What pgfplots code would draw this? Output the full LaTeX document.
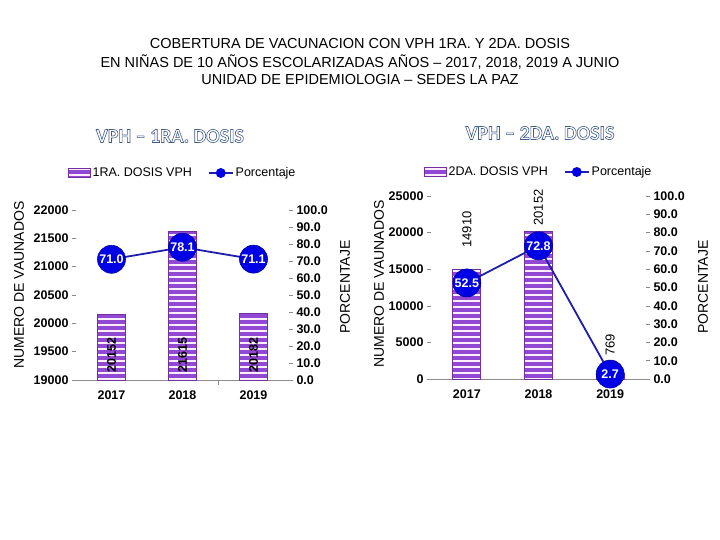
\documentclass[border=0pt]{standalone}
\usepackage{fontspec}
\setmainfont{Liberation Sans}
\newfontfamily\subfont[FakeBold=3]{Carlito Bold}
\usepackage{pgfplots}
\pgfplotsset{compat=1.18}
\usetikzlibrary{patterns}

\pgfdeclarepatternformonly{hstripes}{\pgfqpoint{-2pt}{0pt}}{\pgfqpoint{102pt}{6pt}}{\pgfqpoint{100pt}{6pt}}{%
  \pgfpathrectangle{\pgfqpoint{-2pt}{0pt}}{\pgfqpoint{104pt}{3.6pt}}\pgfusepath{fill}}

\definecolor{barpurple}{RGB}{145,72,210}
\definecolor{barlight}{RGB}{252,238,252}
\definecolor{baredge}{RGB}{112,48,160}
\definecolor{mkblue}{RGB}{0,0,230}
\definecolor{lnblue}{RGB}{30,30,170}
\definecolor{tickgray}{RGB}{140,140,140}

\newcommand{\tickfont}{\fontsize{12.5}{14}\selectfont\bfseries}
\newcommand{\legfont}{\fontsize{12.5}{14}\selectfont}

\pgfplotsset{
  baseaxis/.style={
    anchor=south west, scale only axis,
    xmin=-0.5, xmax=2.5,
    /pgf/number format/assume math mode=true,
    /pgf/number format/1000 sep={},
    scaled y ticks=false,
    tick label style={font=\tickfont},
    tick align=outside, major tick length=4pt,
    ytick style={draw=tickgray, line width=0.6pt},
    clip=false,
  },
  leftaxis/.style={
    baseaxis,
    axis x line*=bottom, axis y line*=left,
    x axis line style={draw=tickgray, line width=0.8pt},
    y axis line style={draw=none},
    xtick={0,1,2}, xticklabels={2017,2018,2019},
    xtick style={draw=none},
    xticklabel style={yshift=-3pt},
    legend style={draw=none, fill=none, legend columns=2, font=\legfont,
      /tikz/every even column/.append style={column sep=14pt}},
  },
  rightaxis/.style={
    baseaxis,
    axis x line=none, axis y line*=right,
    y axis line style={draw=none},
    ymin=0, ymax=100, ytick={0,10,...,100},
    yticklabel style={/pgf/number format/.cd, fixed, fixed zerofill, precision=1},
  },
  mybars/.style={ybar, bar width=28pt, draw=baredge, line width=1pt, fill=barlight,
    postaction={pattern=hstripes, pattern color=barpurple},
    legend image code/.code={\draw[##1] (0pt,-4pt) rectangle (22pt,5pt);}},
  pct/.style={lnblue, line width=1.8pt, mark=*, mark size=14pt,
    mark options={fill=mkblue, draw=mkblue!70!black, line width=0.6pt},
    nodes near coords={\pgfmathprintnumber[fixed,fixed zerofill,precision=1]{\pgfplotspointmeta}},
    every node near coord/.append style={anchor=center, text=white, font=\fontsize{12.5}{14}\selectfont\bfseries, inner sep=0pt}},
  pctleg/.style={lnblue, line width=1.8pt, mark=*, mark size=4pt, mark options={fill=mkblue, draw=mkblue},
    legend image code/.code={\draw[mark repeat=2,mark phase=2,##1] plot coordinates {(0pt,0pt) (12pt,0pt) (24pt,0pt)};}},
}

\newcommand{\outlined}[1]{{\color{white}\special{pdf:literal direct 0.25 0.36 0.55 RG}\subfont\fontsize{20}{22}\selectfont #1}}

\begin{document}
\begin{tikzpicture}
\path[fill=white] (0pt,0pt) rectangle (720pt,-540pt);

\begin{scope}[x=1pt,y=-1pt]
  \node[font=\fontsize{14.5}{16}\selectfont] at (360,44) {COBERTURA DE VACUNACION CON VPH 1RA. Y 2DA. DOSIS};
  \node[font=\fontsize{14.5}{16}\selectfont] at (360,62) {EN NIÑAS DE 10 AÑOS ESCOLARIZADAS AÑOS – 2017, 2018, 2019 A JUNIO};
  \node[font=\fontsize{14.5}{16}\selectfont] at (360,80) {UNIDAD DE EPIDEMIOLOGIA – SEDES LA PAZ};
  \node at (170,136) {\outlined{VPH – 1RA. DOSIS}};
  \node at (540,133) {\outlined{VPH – 2DA. DOSIS}};

  \node[rotate=90, font=\fontsize{14}{16}\selectfont] at (19,285) {NUMERO DE VAUNADOS};
  \node[rotate=90, font=\fontsize{14}{16}\selectfont] at (345,287) {PORCENTAJE};
  \node[rotate=90, font=\fontsize{14}{16}\selectfont] at (379,284) {NUMERO DE VAUNADOS};
  \node[rotate=90, font=\fontsize{14}{16}\selectfont] at (703,287) {PORCENTAJE};
\end{scope}

% ---------- Left chart: 1ra dosis ----------
\begin{axis}[leftaxis, at={(76pt,-380pt)}, width=213pt, height=170pt,
  ymin=19000, ymax=22000, ytick={19000,19500,...,22000},
  extra x ticks={1.5}, extra x tick labels={},
  extra x tick style={xtick style={draw=tickgray, line width=0.6pt}, major tick length=5pt},
  legend style={at={(0.5,1)}, anchor=center, yshift=37pt}]
  \addplot[mybars] coordinates {(0,20152) (1,21615) (2,20182)};
  \addlegendentry{1RA. DOSIS VPH}
  \addlegendimage{pctleg}
  \addlegendentry{Porcentaje}
  \addplot[forget plot, draw=none, mark=none, nodes near coords, point meta=explicit symbolic,
    every node near coord/.append style={rotate=90, anchor=west, text=black, font=\fontsize{12.5}{14}\selectfont\bfseries}]
    coordinates {(0,19070)[20152] (1,19070)[21615] (2,19070)[20182]};
\end{axis}
\begin{axis}[rightaxis, at={(76pt,-380pt)}, width=213pt, height=170pt]
  \addplot[pct] coordinates {(0,71.0) (1,78.1) (2,71.1)};
\end{axis}

% ---------- Right chart: 2da dosis ----------
\begin{axis}[leftaxis, at={(431pt,-379pt)}, width=215pt, height=183pt,
  ymin=0, ymax=25000, ytick={0,5000,...,25000},
  legend style={at={(0.5,1)}, anchor=center, yshift=24pt}]
  \addplot[mybars] coordinates {(0,14910) (1,20152) (2,769)};
  \addlegendentry{2DA. DOSIS VPH}
  \addlegendimage{pctleg}
  \addlegendentry{Porcentaje}
  \addplot[forget plot, draw=none, mark=none, nodes near coords, point meta=explicit symbolic,
    every node near coord/.append style={rotate=90, anchor=west, text=black, font=\fontsize{13}{15}\selectfont}]
    coordinates {(0,17485)[14910] (1,20490)[20152] (2,2732)[769]};
\end{axis}
\begin{axis}[rightaxis, at={(431pt,-379pt)}, width=215pt, height=183pt]
  \addplot[pct] coordinates {(0,52.5) (1,72.8) (2,2.7)};
\end{axis}
\end{tikzpicture}
\end{document}
